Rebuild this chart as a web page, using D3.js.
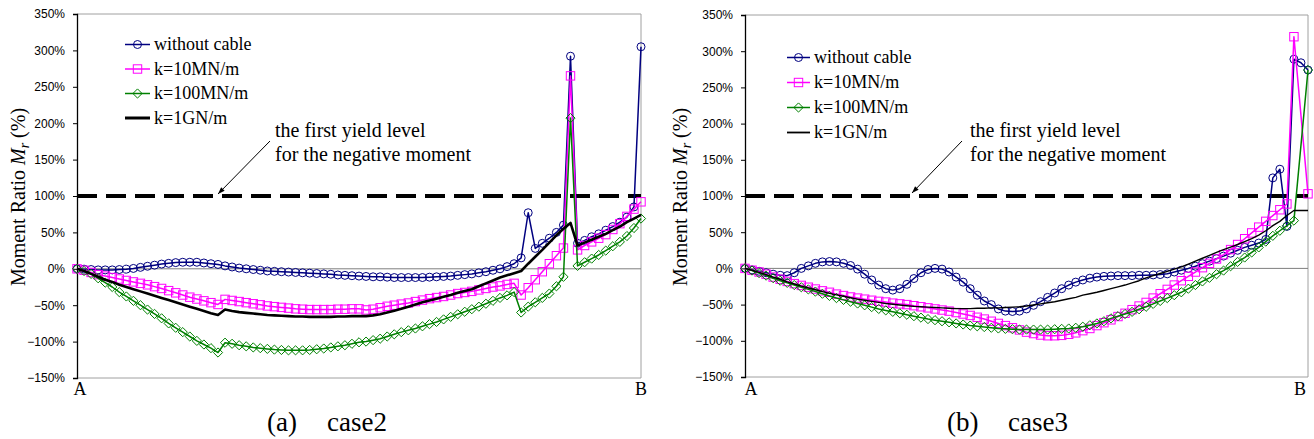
<!DOCTYPE html>
<html><head><meta charset="utf-8">
<script src="https://cdn.jsdelivr.net/npm/d3@7"></script>
<style>body{margin:0;background:#fff;} svg{display:block;}</style>
</head><body>
<svg id="chart" width="1314" height="439"></svg>
<script>
// ---------- data ----------
const seriesNames = ["without cable", "k=10MN/m", "k=100MN/m", "k=1GN/m"];
const yTicks = [-150, -100, -50, 0, 50, 100, 150, 200, 250, 300, 350];
const yieldLevel = 100;
const yieldNote = ["the first yield level", "for the negative moment"];
const endLabels = ["A", "B"];
const nodes = d3.range(81); // node index from A (0) to B (80)

// case2
const case2Without = [
  0, -0.5, -1, -1.5, -1.5, -1.5, -1, -0.5, 0.5, 2,
  3.5, 5, 6.5, 7.5, 8.5, 9, 9, 9, 8, 7,
  6, 4, 2.5, 1, 0, -1, -2, -3, -3.5, -4,
  -4.5, -5, -5.5, -6, -6.5, -7, -7.5, -8.5, -9, -9.5,
  -10, -10.5, -11, -11, -11.5, -12, -12, -12, -12, -12,
  -11.5, -11, -10.5, -10, -9, -8, -7, -5.5, -4, -2,
  0, 3, 7, 15, 77, 28, 35, 42, 50, 60,
  292, 35, 39, 44, 48, 53, 58, 64, 71, 85,
  305];
const case2K10 = [
  0, -2, -5, -8, -10, -12, -14, -16, -18, -20,
  -22, -24.5, -27, -30, -33, -36, -39, -41.5, -44, -46.5,
  -49, -42, -43.5, -45, -46.5, -48, -49.5, -51, -52, -53,
  -54, -55, -55.5, -56, -56, -56, -56, -55.5, -55.5, -55,
  -55, -56.5, -55.5, -53.5, -51.5, -50, -48.5, -47, -45, -43,
  -41, -39.5, -38, -36, -34, -32.5, -31, -29, -27, -25,
  -23.5, -21.5, -20, -36, -26, -15, -4, 7, 18, 28.5,
  265, 26, 32, 37, 42, 47, 54, 62, 72, 82,
  92];
const case2K100 = [
  0, -3, -7, -13, -19, -25, -32, -38, -44, -50,
  -56, -62, -68, -75, -81, -87, -93, -99, -104, -109,
  -115, -101.5, -103, -105, -106.5, -108, -109, -110, -111, -111.5,
  -112, -112, -112, -111.5, -110.5, -109.5, -108, -106.5, -105, -103,
  -101, -100, -98, -96, -93, -90, -87, -84.5, -82, -79,
  -76, -73, -69.5, -66, -62.5, -59, -55.5, -52, -48, -44,
  -40, -36.5, -32, -60, -52, -46, -40, -34, -24, -11,
  207, 4, 9, 14, 19, 25, 31, 37, 45, 56,
  69];
const case2K1G = [
  0, -3, -7, -11, -15, -18, -22, -25, -28, -31,
  -34, -37, -40, -43, -46, -49, -52, -55, -58, -61,
  -63.5, -56, -58, -59.5, -60.5, -61.5, -62.5, -63.5, -64, -64.5,
  -65, -65.5, -65.5, -66, -66, -66, -66, -65.5, -65.5, -65,
  -65, -65, -64, -62.5, -60, -57.5, -55, -52, -49, -46,
  -43.5, -41, -38.5, -36, -33, -30.5, -28, -24, -20, -16,
  -12, -9, -6, -3, 7, 16.5, 26, 36, 46, 55,
  63, 32, 36, 40, 44, 48, 53, 58, 64, 69,
  74];

// case3
const case3Without = [
  0, -2, -4, -6, -8, -9.5, -10, -6, 0, 3.5,
  7, 9, 9.5, 9, 7, 4, -1, -8, -16, -23,
  -28, -30, -28, -22, -14, -6, -1.5, 0, -1, -5,
  -12, -19, -28, -37, -45, -50, -56, -59, -59.5, -59,
  -56, -51, -46, -40, -34, -28, -23, -19, -16, -13.5,
  -12, -11, -10.5, -10, -10, -10, -9.5, -9.5, -9, -8.5,
  -7.5, -5, -2.5, 0, 3, 6.5, 10, 13.5, 17, 21,
  25, 29, 32, 35, 40, 125, 137, 58, 289, 284,
  274];
const case3K10 = [
  0, -2.5, -5, -8, -12, -15, -18, -21, -23.5, -26,
  -28.5, -31, -33, -35.5, -37.5, -39.5, -41, -42.5, -44, -45.5,
  -46.5, -48, -49, -50, -51.5, -53, -54.5, -56, -57.5, -59,
  -61, -63, -65, -67.5, -70, -73, -76, -79, -82, -85,
  -88, -90, -92, -93, -93, -92.5, -91, -89, -86, -83,
  -79, -75, -71, -66.5, -62, -57, -52, -47, -41, -35,
  -29, -23, -17, -11, -5, 1, 7, 13, 19, 26,
  33, 41, 49, 57, 65, 73, 81, 89, 320, null,
  103];
const case3K100 = [
  0, -3, -6.5, -10, -13.5, -17, -20, -23, -26, -29,
  -32, -35, -38, -41, -43.5, -46, -48.5, -51, -53.5, -56,
  -58, -60, -62, -64, -66, -68, -70, -71.5, -73, -74.5,
  -76, -77.5, -79, -80, -81, -82, -83, -83.5, -84, -84.5,
  -84.5, -84.5, -84.5, -84.5, -84, -83.5, -83, -82, -80.5, -78.5,
  -76, -73, -69, -66, -63, -60, -56.5, -53, -49, -45,
  -41, -37, -33, -28, -23, -18, -13, -8, -3, 3,
  9, 15, 22, 29, 37, 45, 52, 59, 66, null,
  274];
const case3K1G = [
  0, -2.5, -5.5, -8.5, -12, -15, -18.5, -21.5, -24.5, -27,
  -29.5, -32, -34.5, -36.5, -38.5, -40.5, -42.5, -44, -45.5, -47,
  -48.5, -49.5, -50.5, -51.5, -52.5, -53, -53.5, -54, -54.5, -55,
  -55.5, -55.5, -55.5, -55, -55, -54.5, -54.5, -54, -53.5, -53,
  -52, -50.5, -49, -47.5, -46, -44, -42, -40, -37, -35,
  -33, -30.5, -28, -25.5, -23, -20, -17, -13, -10, -7,
  -4, -1, 2, 6, 10, 14, 18, 22, 26, 29.5,
  33, 37, 41, 46, 52, 59, 65, 73, 80, 80,
  80];

// ---------- layout / style ----------
const colors = ["#000080", "#FF00FF", "#008000", "#000000"];
const markerTypes = ["circle", "square", "diamond", null];
const serif = "'Liberation Serif','Times New Roman',Times,serif";
const sans = "'Liberation Sans',Arial,Helvetica,sans-serif";

const panels = [
  { caption: "(a)", name: "case2", series: [case2Without, case2K10, case2K100, case2K1G],
    box: { l: 77, r: 641, t: 14, b: 378 }, blackW: 2.6,
    legend: { x: 125, y: 44.5, dy: 24.5, len: 25 }, titleX: 18,
    note: { x: 275, y: 137, ax1: 270, ay1: 141, ax2: 218, ay2: 194 },
    capX: [267, 327], ends: [80, 641] },
  { caption: "(b)", name: "case3", series: [case3Without, case3K10, case3K100, case3K1G],
    box: { l: 745, r: 1308, t: 15, b: 377 }, blackW: 1.4,
    legend: { x: 787, y: 57.5, dy: 25, len: 23 }, titleX: 680,
    note: { x: 970, y: 137, ax1: 962, ay1: 141, ax2: 912, ay2: 193 },
    capX: [947, 1008], ends: [751, 1300] }
];

const svg = d3.select("#chart");
const defs = svg.append("defs");
defs.append("marker").attr("id", "arrow").attr("markerUnits", "userSpaceOnUse")
  .attr("viewBox", "0 0 10 10").attr("refX", 10).attr("refY", 5)
  .attr("markerWidth", 10).attr("markerHeight", 7).attr("orient", "auto")
  .append("path").attr("d", "M0,1.5L10,5L0,8.5Z").attr("fill", "#000");

function drawMarker(g, type, x, y, color) {
  if (type === "circle") {
    g.append("circle").attr("cx", x).attr("cy", y).attr("r", 4)
      .attr("fill", "none").attr("stroke", color).attr("stroke-width", 1);
  } else if (type === "square") {
    g.append("rect").attr("x", x - 4.2).attr("y", y - 4.2).attr("width", 8.4).attr("height", 8.4)
      .attr("fill", "none").attr("stroke", color).attr("stroke-width", 1);
  } else if (type === "diamond") {
    g.append("path").attr("d", `M${x},${y - 4.6}L${x + 4.6},${y}L${x},${y + 4.6}L${x - 4.6},${y}Z`)
      .attr("fill", "none").attr("stroke", color).attr("stroke-width", 1);
  }
}

panels.forEach(p => {
  const g = svg.append("g");
  const x = d3.scaleLinear().domain([0, nodes.length - 1]).range([p.box.l, p.box.r]);
  const y = d3.scaleLinear().domain([-150, 350]).range([p.box.b, p.box.t]);

  // frame (top, right, bottom) in gray
  g.append("path")
    .attr("d", `M${p.box.l},${p.box.t}H${p.box.r}V${p.box.b}H${p.box.l}`)
    .attr("fill", "none").attr("stroke", "#a0a0a0").attr("stroke-width", 1);

  // zero line
  g.append("line").attr("x1", p.box.l).attr("x2", p.box.r)
    .attr("y1", y(0)).attr("y2", y(0)).attr("stroke", "#7f7f7f").attr("stroke-width", 1);

  // y axis
  const axis = d3.axisLeft(y).tickValues(yTicks).tickSize(4).tickPadding(8)
    .tickFormat(d => (d < 0 ? "\u2212" : "") + Math.abs(d) + "%");
  const ag = g.append("g").attr("transform", `translate(${p.box.l},0)`).call(axis);
  ag.select(".domain").attr("stroke", "#000").attr("stroke-width", 1.3);
  ag.selectAll(".tick line").attr("stroke", "#000");
  ag.selectAll(".tick text").attr("font-family", sans).attr("font-size", 12).attr("fill", "#000");

  // y title
  const tt = g.append("text").attr("transform", `translate(${p.titleX},197) rotate(-90)`)
    .attr("text-anchor", "middle").attr("dy", "0.35em")
    .attr("font-family", serif).attr("font-size", 20).attr("fill", "#000");
  tt.append("tspan").text("Moment Ratio ");
  tt.append("tspan").attr("font-style", "italic").text("M");
  tt.append("tspan").attr("font-style", "italic").attr("font-size", 14).attr("dy", 4).text("r");
  tt.append("tspan").attr("dy", -4).text(" (%)");

  // yield dashed line
  g.append("line").attr("x1", p.box.l).attr("x2", p.box.r)
    .attr("y1", y(yieldLevel)).attr("y2", y(yieldLevel))
    .attr("stroke", "#000").attr("stroke-width", 4).attr("stroke-dasharray", "20,9");

  // series
  p.series.forEach((vals, si) => {
    const pts = nodes.map(i => [i, vals[i]]).filter(d => d[1] !== null && d[1] !== undefined);
    const line = d3.line().x(d => x(d[0])).y(d => y(d[1]));
    g.append("path").datum(pts).attr("d", line).attr("fill", "none")
      .attr("stroke", colors[si]).attr("stroke-width", si === 3 ? p.blackW : 1.5)
      .attr("stroke-linejoin", "round");
    if (markerTypes[si]) {
      const mg = g.append("g");
      pts.forEach(d => drawMarker(mg, markerTypes[si], x(d[0]), y(d[1]), colors[si]));
    }
  });

  // legend
  seriesNames.forEach((name, si) => {
    const ly = p.legend.y + si * p.legend.dy;
    g.append("line").attr("x1", p.legend.x).attr("x2", p.legend.x + p.legend.len)
      .attr("y1", ly).attr("y2", ly).attr("stroke", colors[si])
      .attr("stroke-width", si === 3 ? p.blackW + 0.4 : 1.5);
    if (markerTypes[si]) drawMarker(g, markerTypes[si], p.legend.x + p.legend.len / 2, ly, colors[si]);
    g.append("text").attr("x", p.legend.x + p.legend.len + 4).attr("y", ly).attr("dy", "0.33em")
      .attr("font-family", serif).attr("font-size", 18).attr("fill", "#000").text(name);
  });

  // annotation
  yieldNote.forEach((t, i) => {
    g.append("text").attr("x", p.note.x).attr("y", p.note.y + i * 24)
      .attr("font-family", serif).attr("font-size", 20).attr("fill", "#000").text(t);
  });
  g.append("line").attr("x1", p.note.ax1).attr("y1", p.note.ay1)
    .attr("x2", p.note.ax2).attr("y2", p.note.ay2)
    .attr("stroke", "#000").attr("stroke-width", 1).attr("marker-end", "url(#arrow)");

  // A / B labels
  endLabels.forEach((t, i) => {
    g.append("text").attr("x", p.ends[i]).attr("y", 395).attr("text-anchor", "middle")
      .attr("font-family", serif).attr("font-size", 18).attr("fill", "#000").text(t);
  });

  // caption
  g.append("text").attr("x", p.capX[0]).attr("y", 431)
    .attr("font-family", serif).attr("font-size", 27).attr("fill", "#000").text(p.caption);
  g.append("text").attr("x", p.capX[1]).attr("y", 431)
    .attr("font-family", serif).attr("font-size", 27).attr("fill", "#000").text(p.name);
});
</script>
</body></html>
